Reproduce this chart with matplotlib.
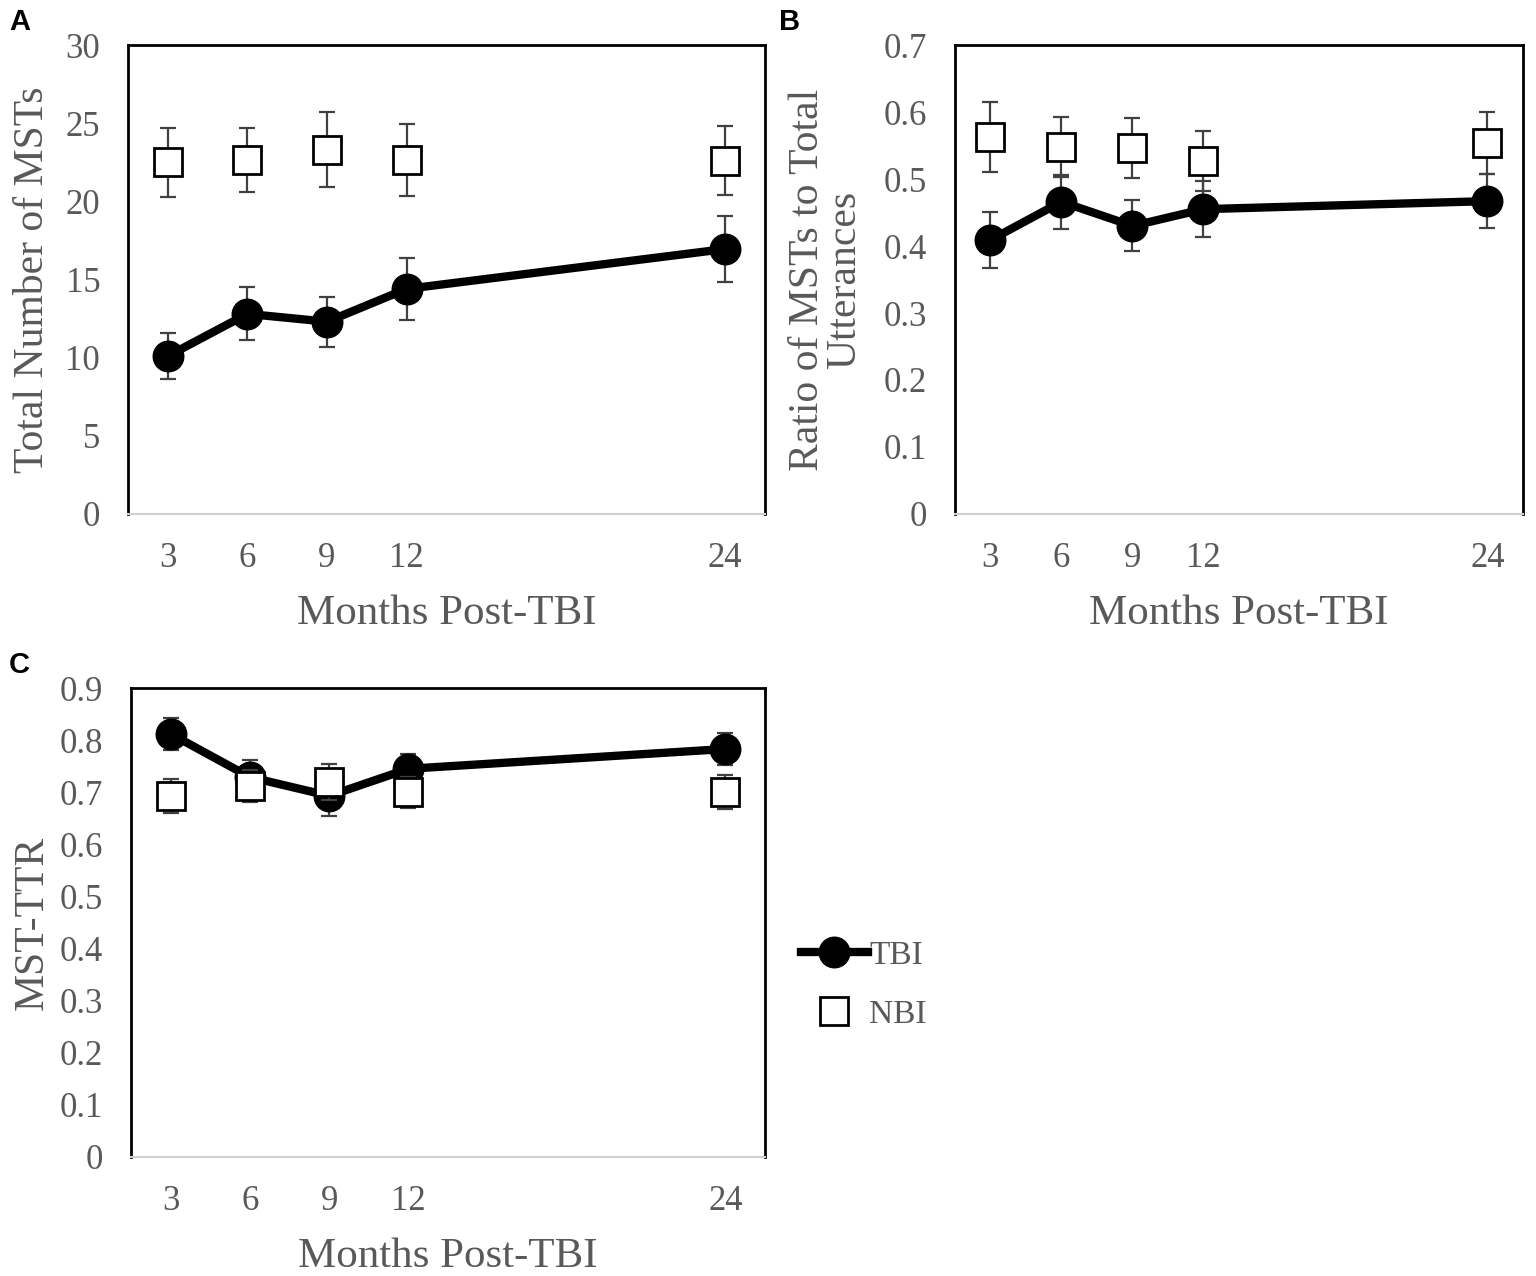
import matplotlib.pyplot as plt

months = [3, 6, 9, 12, 24]

# Panel A: total number of MSTs
tbi_total = [10.1, 12.8, 12.3, 14.4, 16.95]
tbi_total_err = [1.45, 1.7, 1.6, 2.0, 2.1]
nbi_total = [22.5, 22.65, 23.3, 22.65, 22.6]
nbi_total_err = [2.2, 2.05, 2.4, 2.3, 2.2]

# Panel B: ratio of MSTs to total utterances
tbi_ratio = [0.409, 0.466, 0.430, 0.455, 0.467]
tbi_ratio_err = [0.042, 0.040, 0.038, 0.042, 0.040]
nbi_ratio = [0.563, 0.548, 0.546, 0.527, 0.554]
nbi_ratio_err = [0.052, 0.045, 0.045, 0.045, 0.046]

# Panel C: MST-TTR
tbi_ttr = [0.812, 0.729, 0.693, 0.745, 0.783]
tbi_ttr_err = [0.030, 0.032, 0.038, 0.028, 0.030]
nbi_ttr = [0.693, 0.712, 0.720, 0.700, 0.700]
nbi_ttr_err = [0.033, 0.030, 0.035, 0.030, 0.033]

serif = ['Liberation Serif', 'DejaVu Serif']
grey = '#595959'
bar_col = '#404040'

fig = plt.figure(figsize=(15.36, 12.76), dpi=100)


def panel(rect, tbi, tbi_err, nbi, nbi_err, ylim, yticks, ylabel,
          letter, letter_x, ypad):
    ax = fig.add_axes(rect)
    ax.errorbar(months, tbi, yerr=tbi_err, fmt='none', ecolor=bar_col,
                elinewidth=1.6, capsize=6, capthick=1.6, zorder=2)
    ax.plot(months, tbi, color='black', lw=6, marker='o', markersize=22,
            zorder=3, label='TBI')
    ax.errorbar(months, nbi, yerr=nbi_err, fmt='none', ecolor=bar_col,
                elinewidth=1.6, capsize=6, capthick=1.6, zorder=4)
    ax.plot(months, nbi, ls='none', marker='s', markersize=20,
            markerfacecolor='white', markeredgecolor='black',
            markeredgewidth=2, zorder=5, label='NBI')
    ax.set_xlim(1.5, 25.5)
    ax.set_ylim(*ylim)
    ax.set_xticks(months)
    ax.set_xticklabels([str(m) for m in months])
    ax.set_yticks(yticks)
    ax.set_yticklabels(['0' if t == 0 else f'{t:g}' for t in yticks])
    ax.tick_params(length=0, labelsize=25, labelcolor=grey)
    ax.tick_params(axis='y', pad=20)
    ax.tick_params(axis='x', pad=20)
    for lab in ax.get_xticklabels() + ax.get_yticklabels():
        lab.set_family(serif)
    for side in ['top', 'left', 'right']:
        ax.spines[side].set_linewidth(2)
        ax.spines[side].set_color('black')
    ax.spines['bottom'].set_color('#d0d0d0')
    ax.spines['bottom'].set_linewidth(1.5)
    ax.set_xlabel('Months Post-TBI', fontsize=31, color=grey,
                  family=serif, labelpad=14)
    ax.set_ylabel(ylabel, fontsize=30, color=grey, family=serif,
                  labelpad=ypad, linespacing=0.95)
    fig.text(letter_x, rect[1] + rect[3] + 0.029, letter,
             fontsize=21, fontweight='bold', family='Liberation Sans',
             va='top', ha='left')
    return ax


ax_a = panel([0.0833, 0.5972, 0.4147, 0.3675], tbi_total, tbi_total_err,
             nbi_total, nbi_total_err, (0, 30), [0, 5, 10, 15, 20, 25, 30],
             'Total Number of MSTs', 'A', 0.006, 10)
ax_b = panel([0.6217, 0.5972, 0.3698, 0.3675], tbi_ratio, tbi_ratio_err,
             nbi_ratio, nbi_ratio_err, (0, 0.7),
             [0, 0.1, 0.2, 0.3, 0.4, 0.5, 0.6, 0.7],
             'Ratio of MSTs to Total\nUtterances', 'B', 0.507, 14)
ax_c = panel([0.0853, 0.0933, 0.4128, 0.3675], tbi_ttr, tbi_ttr_err,
             nbi_ttr, nbi_ttr_err, (0, 0.9),
             [0, 0.1, 0.2, 0.3, 0.4, 0.5, 0.6, 0.7, 0.8, 0.9],
             'MST-TTR', 'C', 0.006, 6)

handles, labels = ax_c.get_legend_handles_labels()
leg = fig.legend(handles, labels, loc='center left',
                 bbox_to_anchor=(0.502, 0.228), frameon=False,
                 handlelength=2.0, handletextpad=0.05, labelspacing=0.85,
                 prop={'family': serif, 'size': 24})
for t in leg.get_texts():
    t.set_color(grey)

fig.savefig('out.png', dpi=100)
